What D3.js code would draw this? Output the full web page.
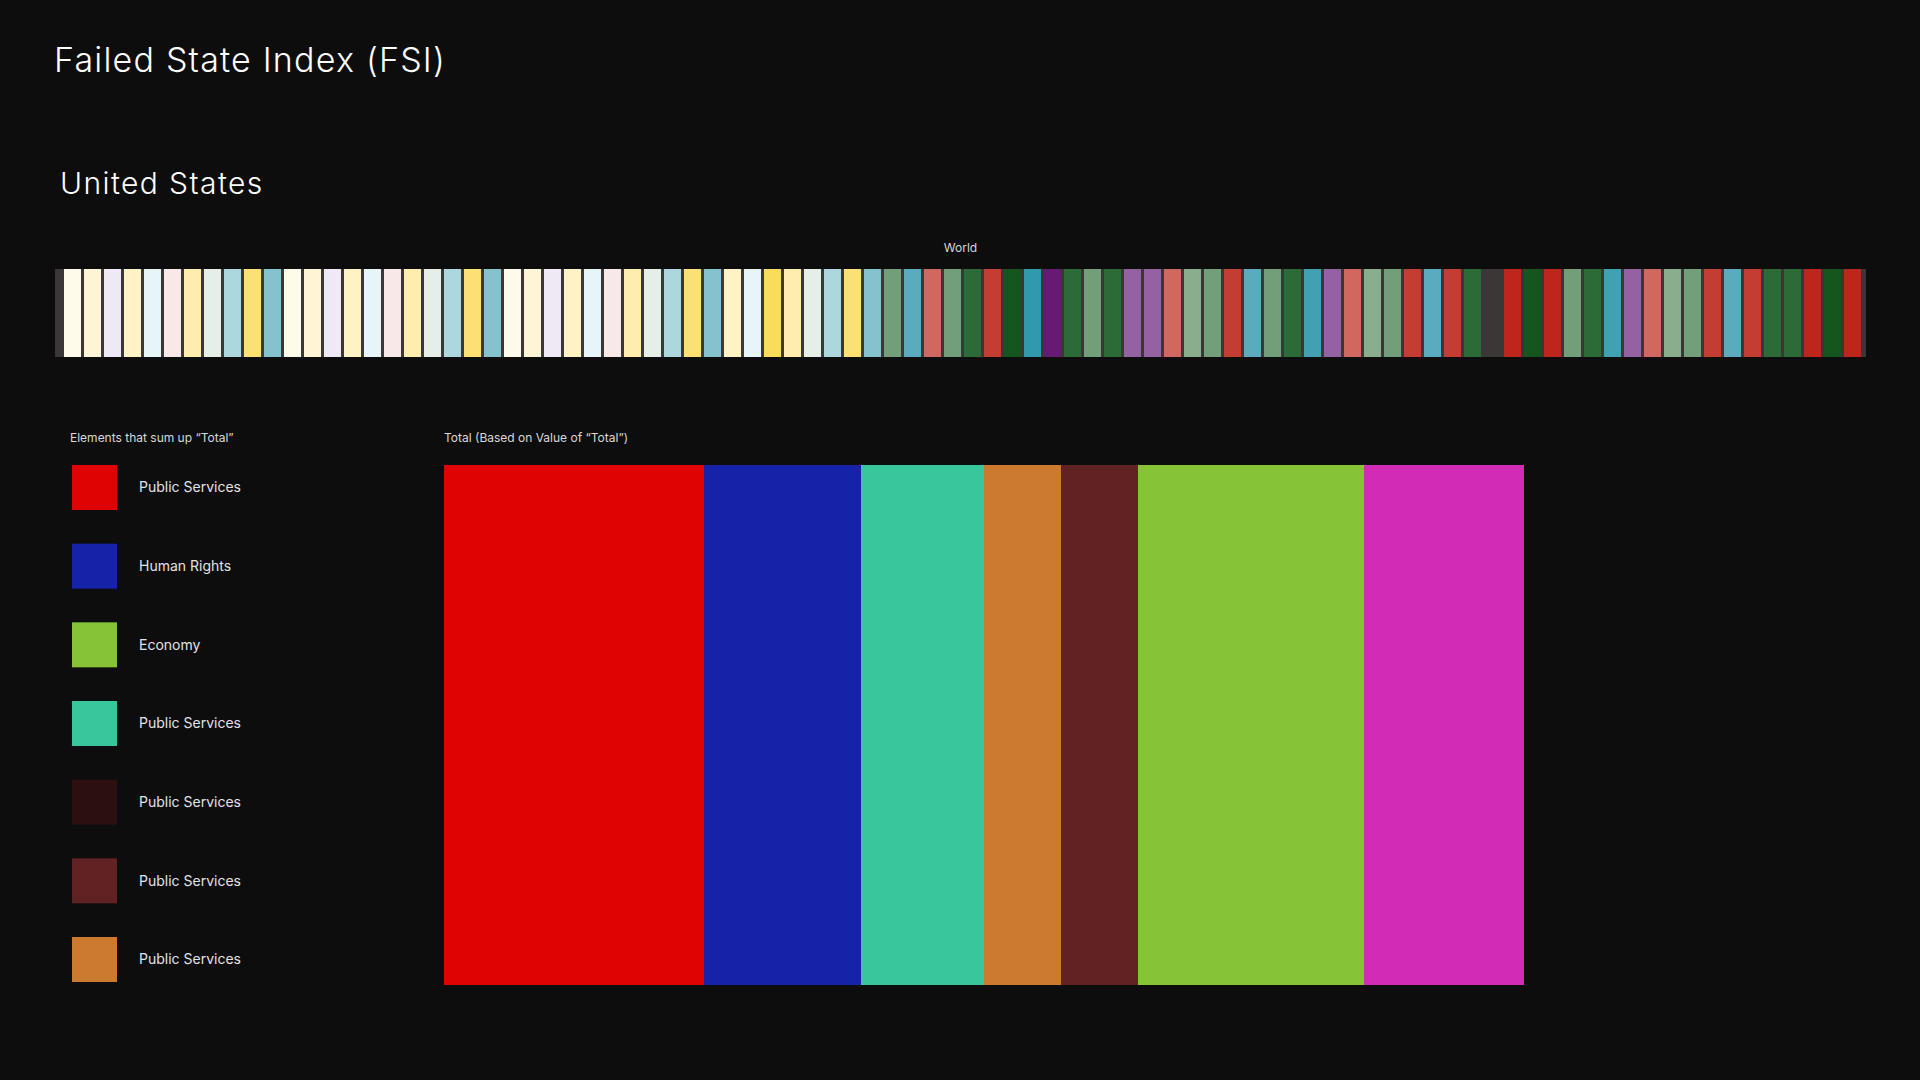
<!DOCTYPE html>
<html>
<head>
<meta charset="utf-8">
<script src="https://cdn.jsdelivr.net/npm/d3@7"></script>
<style>
  html, body { margin: 0; padding: 0; background: #0d0d0d; }
  svg { display: block; font-family: Inter, "Noto Sans", sans-serif; }
</style>
</head>
<body>
<svg id="chart" width="1920" height="1080"></svg>
<script>
// ---------- DATA ----------
const chartTitle = "Failed State Index (FSI)";
const countryName = "United States";
const worldLabel = "World";

// category code of each country in the "World" strip (90 countries, ranked)
const worldCategories = [
  "A","B","C","D","E","F","G","H","I","J","K",
  "A","B","C","D","E","F","G","H","I","J","K",
  "A","B","C","D","E","F","G","H","I","J","K",
  "D","E","L","G","H","I","J","K",
  "M","N","O","M","P","Q","R","S","T","P","M","P","U","U","O","V","M","Q","N","M",
  "P","W","U","O","V","M","Q","N","Q","P","X","Y","R","Y","M","P","W","U","O","V",
  "M","Q","N","Q","P","P","Y","R","Y"
];
const worldCategoryDomain = ["A","B","C","D","E","F","G","H","I","J","K","L","M","N","O","P","Q","R","S","T","U","V","W","X","Y"];
const worldCategoryColors = ["#fffbea","#fff5d6","#efe8f5","#fff2c4","#e8f5f8","#f8e8e8","#ffedaf","#e6eee8","#acd7de","#fce073","#84c2ce","#fadc5c",
  "#739e7a","#5aabbd","#d1685f","#2c6b37","#c43d33","#14561e","#3099ad","#661a74","#9461a2","#8aae8d","#42a0b3","#3b3736","#bd261c"];

const legendTitle = "Elements that sum up \u201CTotal\u201D";
const legendLabels = ["Public Services","Human Rights","Economy","Public Services","Public Services","Public Services","Public Services"];
const legendColors = ["#df0303","#1622a8","#86c337","#38c69c","#2c1011","#612223","#cd7a31"];

const totalTitle = "Total (Based on Value of \u201CTotal\u201D)";
const totalValues = [26.0, 15.7, 12.3, 7.7, 7.7, 22.6, 16.0];
const totalColors = ["#df0303","#1622a8","#38c69c","#cd7a31","#612223","#86c337","#d22bb5"];

// ---------- DRAW ----------
const svg = d3.select("#chart");
svg.append("rect").attr("width", 1920).attr("height", 1080).attr("fill", "#0d0d0d");

svg.append("text").attr("x", 54).attr("y", 72)
  .attr("fill", "#ffffff").attr("font-size", 34).attr("font-weight", 300)
  .attr("letter-spacing", 1.2)
  .text(chartTitle);

svg.append("text").attr("x", 60).attr("y", 194)
  .attr("fill", "#ffffff").attr("font-size", 30).attr("font-weight", 300)
  .attr("letter-spacing", 1.4)
  .text(countryName);

// World strip
const stripX0 = 55, stripX1 = 1866, stripY = 269, stripH = 88;
svg.append("rect").attr("x", stripX0).attr("y", stripY)
  .attr("width", stripX1 - stripX0).attr("height", stripH).attr("fill", "#3b3736");

svg.append("text").attr("x", (stripX0 + stripX1) / 2).attr("y", 252)
  .attr("text-anchor", "middle").attr("fill", "#d6d6d6").attr("font-size", 12)
  .text(worldLabel);

const xWorld = d3.scaleBand()
  .domain(d3.range(worldCategories.length))
  .range([stripX0, stripX1])
  .paddingInner(0.15)
  .paddingOuter(0.35)
  .align(0.643);
const worldColor = d3.scaleOrdinal().domain(worldCategoryDomain).range(worldCategoryColors);

svg.append("g").selectAll("rect")
  .data(worldCategories)
  .join("rect")
  .attr("x", (d, i) => xWorld(i))
  .attr("y", stripY)
  .attr("width", xWorld.bandwidth())
  .attr("height", stripH)
  .attr("fill", d => worldColor(d));

// Legend
svg.append("text").attr("x", 70).attr("y", 442)
  .attr("fill", "#d8d8d8").attr("font-size", 12)
  .text(legendTitle);

const yLegend = d3.scaleBand()
  .domain(d3.range(legendLabels.length))
  .range([465, 982])
  .paddingInner(0.428)
  .paddingOuter(0);

const lg = svg.append("g").selectAll("g")
  .data(legendLabels)
  .join("g")
  .attr("transform", (d, i) => `translate(0,${yLegend(i)})`);
lg.append("rect").attr("x", 72).attr("width", 45).attr("height", yLegend.bandwidth())
  .attr("fill", (d, i) => legendColors[i]);
lg.append("text").attr("x", 139).attr("y", yLegend.bandwidth() / 2)
  .attr("dy", "0.35em").attr("fill", "#e2e2e2").attr("font-size", 14)
  .text(d => d);

// Total bar
svg.append("text").attr("x", 444).attr("y", 442)
  .attr("fill", "#d8d8d8").attr("font-size", 12)
  .text(totalTitle);

const xTotal = d3.scaleLinear().domain([0, d3.sum(totalValues)]).range([444, 1524]);
const starts = [0, ...d3.cumsum(totalValues)].slice(0, totalValues.length);
const barY = 465, barH = 520;

svg.append("g").selectAll("rect")
  .data(totalValues)
  .join("rect")
  .attr("x", (d, i) => xTotal(starts[i]))
  .attr("y", barY)
  .attr("width", (d, i) => xTotal(starts[i] + d) - xTotal(starts[i]))
  .attr("height", barH)
  .attr("fill", (d, i) => totalColors[i]);
</script>
</body>
</html>
